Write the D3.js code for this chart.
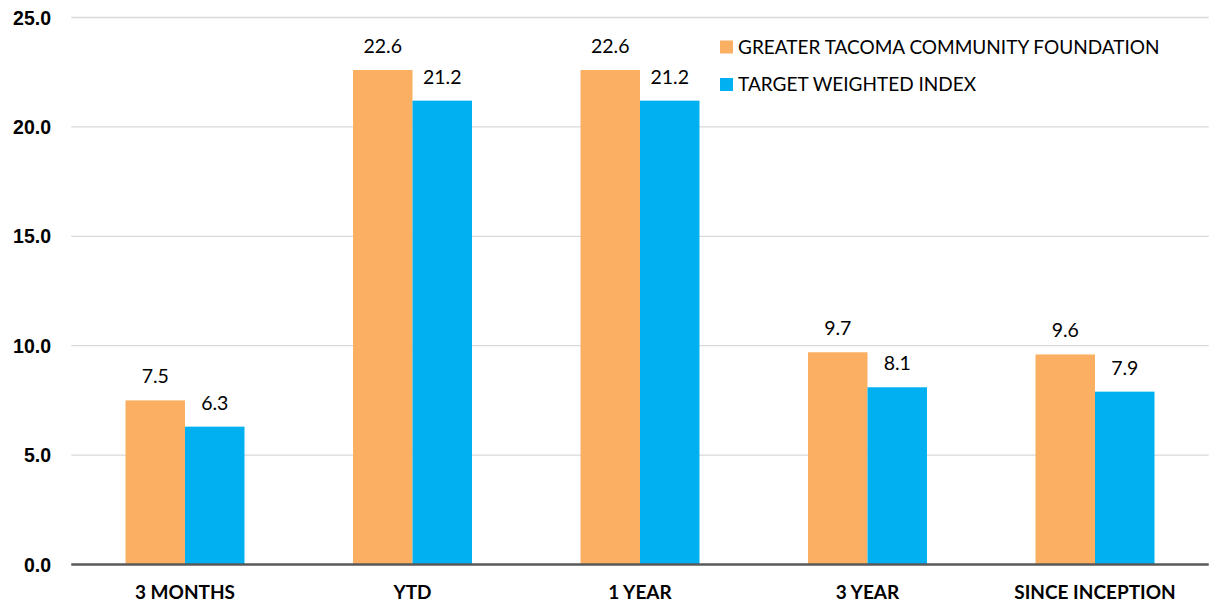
<!DOCTYPE html>
<html><head><meta charset="utf-8">
<script src="https://cdn.jsdelivr.net/npm/d3@7"></script>
<style>body{margin:0;background:#fff}svg{display:block}</style>
</head><body>
<svg id="c" width="1218" height="605"></svg>
<script>
const categories = ["3 MONTHS","YTD","1 YEAR","3 YEAR","SINCE INCEPTION"];
const seriesNames = ["GREATER TACOMA COMMUNITY FOUNDATION","TARGET WEIGHTED INDEX"];
const foundation = [7.5,22.6,22.6,9.7,9.6];
const weightedIndex = [6.3,21.2,21.2,8.1,7.9];
const yTicks = [0,5,10,15,20,25];
const colors = ["#FBAF62","#00B0F0"];

(function(){
const svg = d3.select("#c");
const mL = 71.25, mR = 1208.75, mT = 17.5, mB = 564.5;
const x = d3.scaleBand().domain(categories).range([mL,mR]).paddingInner(0.477).paddingOuter(0.2385);
const x1 = d3.scaleBand().domain([0,1]).range([0,x.bandwidth()]);
const y = d3.scaleLinear().domain([0,25]).range([mB,mT]);

svg.append("g").selectAll("line").data(yTicks.filter(t=>t>0)).join("line")
  .attr("x1",mL).attr("x2",mR).attr("y1",d=>y(d)).attr("y2",d=>y(d))
  .attr("stroke","#d9d9d9").attr("stroke-width",1.3);

svg.append("g").selectAll("text").data(yTicks).join("text")
  .attr("x",51).attr("y",d=>y(d)).attr("dy","0.36em").attr("text-anchor","end")
  .attr("font-family","'Liberation Sans Narrow','Arial Narrow',Arial,sans-serif")
  .attr("font-weight","bold").attr("font-size",19.5).attr("fill","#000")
  .text(d=>d.toFixed(1));

const series = [foundation,weightedIndex];
series.forEach((vals,si)=>{
  const g = svg.append("g");
  g.selectAll("rect").data(vals).join("rect")
    .attr("x",(d,i)=>x(categories[i])+x1(si)).attr("width",x1.bandwidth())
    .attr("y",d=>y(d)).attr("height",d=>y(0)-y(d)).attr("fill",colors[si]);
  g.selectAll("text").data(vals).join("text")
    .attr("x",(d,i)=>x(categories[i])+x1(si)+x1.bandwidth()/2)
    .attr("y",d=>y(d)-17).attr("text-anchor","middle")
    .attr("font-family","Lato,'Open Sans',sans-serif").attr("font-size",19.5).attr("fill","#000")
    .text(d=>d.toFixed(1));
});

svg.append("line").attr("x1",mL).attr("x2",mR).attr("y1",mB).attr("y2",mB)
  .attr("stroke","#595959").attr("stroke-width",2.5);

svg.append("g").selectAll("text").data(categories).join("text")
  .attr("x",d=>x(d)+x.bandwidth()/2).attr("y",599).attr("text-anchor","middle")
  .attr("font-family","Lato,'Open Sans',sans-serif").attr("font-weight","bold").attr("font-size",19).attr("fill","#000")
  .text(d=>d);

const lg = svg.append("g");
seriesNames.forEach((n,i)=>{
  const yy = 47 + i*37.5;
  lg.append("rect").attr("x",720).attr("y",yy-6.5).attr("width",13).attr("height",13).attr("fill",colors[i]);
  lg.append("text").attr("x",738).attr("y",yy).attr("dy","0.36em")
    .attr("font-family","Lato,'Open Sans',sans-serif").attr("font-size",19).attr("fill","#000").text(n);
});
})();
</script>
</body></html>
